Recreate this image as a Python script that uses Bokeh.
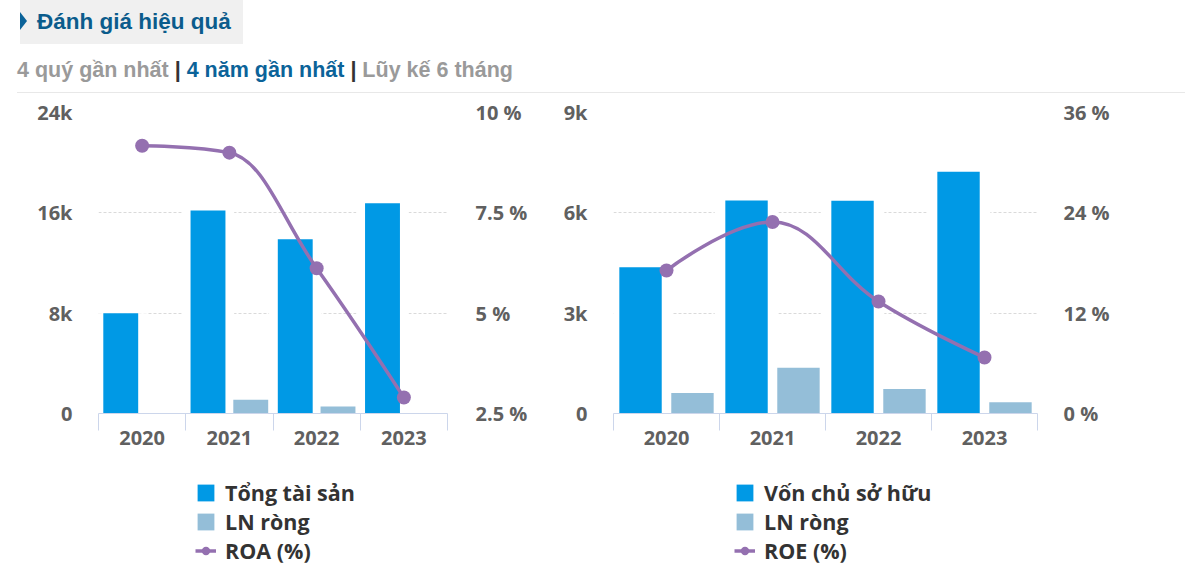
from bokeh.plotting import figure
from bokeh.models import (Range1d, LinearAxis, FixedTicker, CustomJSTickFormatter,
                          NumeralTickFormatter, Legend, LegendItem, Div, ColumnDataSource)
from bokeh.transform import dodge
from bokeh.layouts import column, row
from bokeh.embed import file_html
from bokeh.resources import INLINE

# ---------------- data ----------------
years = ["2020", "2021", "2022", "2023"]
tong_tai_san = [8000, 16190, 13900, 16770]
ln_rong_a = [0, 1100, 550, 0]
roa = [9.17, 9.0, 6.12, 2.9]
von_chu_so_huu = [4370, 6370, 6360, 7230]
ln_rong_e = [610, 1370, 730, 340]
roe = [17.1, 22.9, 13.4, 6.7]

left_ticks = [0, 8000, 16000, 24000]
roa_ticks = [2.5, 5, 7.5, 10]
right_ticks = [0, 3000, 6000, 9000]
roe_ticks = [0, 12, 24, 36]

title_text = "Đánh giá hiệu quả"
tab_labels = ["4 quý gần nhất", "4 năm gần nhất", "Lũy kế 6 tháng"]

# ---------------- styles ----------------
C_MAIN = "#0099e5"
C_LN = "#94bed8"
C_LINE = "#9470b0"
C_AXIS = "#ccd6eb"
C_TICKTXT = "#606060"
FONT = "Open Sans"
LEGEND_H = 115


def spline_segments(xs, ys):
    """Highcharts-like spline control points (smoothing 1.5)."""
    n = len(xs)
    sm, den = 1.5, 2.5
    lc = [None] * n
    rc = [None] * n
    for i in range(1, n - 1):
        px, py = xs[i], ys[i]
        lx, ly = xs[i - 1], ys[i - 1]
        nx, ny = xs[i + 1], ys[i + 1]
        lcx, lcy = (sm * px + lx) / den, (sm * py + ly) / den
        rcx, rcy = (sm * px + nx) / den, (sm * py + ny) / den
        if rcx != lcx:
            corr = ((rcy - lcy) * (rcx - px)) / (rcx - lcx) + py - rcy
            lcy += corr
            rcy += corr
        if lcy > ly and lcy > py:
            lcy = max(ly, py); rcy = 2 * py - lcy
        elif lcy < ly and lcy < py:
            lcy = min(ly, py); rcy = 2 * py - lcy
        if rcy > ny and rcy > py:
            rcy = max(ny, py); lcy = 2 * py - rcy
        elif rcy < ny and rcy < py:
            rcy = min(ny, py); lcy = 2 * py - rcy
        lc[i] = (lcx, lcy)
        rc[i] = (rcx, rcy)
    seg = dict(x0=[], y0=[], x1=[], y1=[], cx0=[], cy0=[], cx1=[], cy1=[])
    for i in range(1, n):
        a = (xs[i - 1], ys[i - 1])
        b = (xs[i], ys[i])
        c0 = rc[i - 1] or a
        c1 = lc[i] or b
        seg["x0"].append(a[0]); seg["y0"].append(a[1])
        seg["x1"].append(b[0]); seg["y1"].append(b[1])
        seg["cx0"].append(c0[0]); seg["cy0"].append(c0[1])
        seg["cx1"].append(c1[0]); seg["cy1"].append(c1[1])
    return seg


def add_series(p, src, seg, visible=True):
    p.vbar(x=dodge("x", -0.245, range=p.x_range), top="main", width=0.6,
           fill_color="white", line_color=None, source=src, visible=visible)
    r_main = p.vbar(x=dodge("x", -0.245, range=p.x_range), top="main", width=0.4,
                    fill_color=C_MAIN, line_color=None, source=src, visible=visible)
    r_ln = p.vbar(x=dodge("x", 0.245, range=p.x_range), top="ln", width=0.4,
                  fill_color=C_LN, line_color=None, source=src, visible=visible)
    r_bez = p.bezier(source=ColumnDataSource(seg), x0="x0", y0="y0", x1="x1", y1="y1",
                     cx0="cx0", cy0="cy0", cx1="cx1", cy1="cy1",
                     line_color=C_LINE, line_width=3.5, y_range_name="pct",
                     visible=visible)
    r_pt = p.scatter("x", "pct", source=src, size=14, fill_color=C_LINE,
                     line_color=None, y_range_name="pct", visible=visible)
    return r_main, r_ln, r_bez, r_pt


def make_chart(border_left, frame_w, border_right, main_vals, ln_vals, pct_vals,
               main_ticks, pct_ticks, main_label, pct_label, legend_x,
               left_standoff, right_standoff):
    p = figure(frame_width=frame_w, frame_height=301,
               min_border_left=border_left, min_border_right=border_right,
               min_border_top=14, min_border_bottom=50,
               x_range=Range1d(0, len(years)),
               y_range=Range1d(main_ticks[0], main_ticks[-1]),
               output_backend="svg", toolbar_location=None,
               outline_line_color=None, background_fill_color="white",
               border_fill_color="white")
    p.extra_y_ranges = {"pct": Range1d(pct_ticks[0], pct_ticks[-1])}

    xpos = [i + 0.5 for i in range(len(years))]
    src = ColumnDataSource(dict(x=xpos, main=main_vals, ln=ln_vals,
                                pct=pct_vals, year=years))
    seg = spline_segments(xpos, pct_vals)
    add_series(p, src, seg)

    p.xgrid.visible = False
    p.ygrid.ticker = FixedTicker(ticks=main_ticks)
    p.ygrid.grid_line_color = "#dadada"
    p.ygrid.grid_line_dash = "3 2"
    p.ygrid.grid_line_width = 1

    def style_labels(ax, size="20px"):
        ax.major_label_text_font = FONT
        ax.major_label_text_font_style = "bold"
        ax.major_label_text_font_size = size
        ax.major_label_text_color = C_TICKTXT

    ya = p.yaxis[0]
    ya.ticker = FixedTicker(ticks=main_ticks)
    ya.formatter = NumeralTickFormatter(format="0a")
    ya.axis_line_color = None
    ya.major_tick_line_color = None
    ya.minor_tick_line_color = None
    ya.major_tick_out = 0
    ya.major_tick_in = 0
    ya.major_label_standoff = left_standoff
    style_labels(ya)

    yr = LinearAxis(y_range_name="pct", ticker=FixedTicker(ticks=pct_ticks),
                    formatter=CustomJSTickFormatter(code="return tick + ' %';"))
    yr.axis_line_color = None
    yr.major_tick_line_color = None
    yr.minor_tick_line_color = None
    yr.major_tick_out = 0
    yr.major_tick_in = 0
    yr.major_label_standoff = right_standoff
    style_labels(yr)
    p.add_layout(yr, "right")

    xa = p.xaxis[0]
    xa.ticker = FixedTicker(ticks=list(range(len(years) + 1)))
    xa.formatter = CustomJSTickFormatter(code="return '';")
    xa.axis_line_color = C_AXIS
    xa.major_tick_line_color = C_AXIS
    xa.minor_tick_line_color = None
    xa.major_tick_out = 17
    xa.major_tick_in = 0
    xa.major_label_text_font_size = "1px"
    xa.major_label_standoff = 0

    xl = LinearAxis(ticker=FixedTicker(ticks=xpos),
                    formatter=CustomJSTickFormatter(args=dict(years=years),
                                                    code="return years[Math.floor(tick)];"))
    xl.axis_line_color = None
    xl.major_tick_line_color = None
    xl.minor_tick_line_color = None
    xl.major_tick_out = 0
    xl.major_tick_in = 0
    xl.major_label_standoff = 0
    style_labels(xl)
    p.add_layout(xl, "below")

    # ---- legend strip (separate figure so it is not clipped) ----
    total_w = border_left + frame_w + border_right
    lg = figure(width=total_w, height=LEGEND_H, min_border=0,
                x_range=Range1d(0, len(years)),
                y_range=Range1d(main_ticks[0], main_ticks[-1]),
                output_backend="svg", toolbar_location=None,
                x_axis_location=None, y_axis_location=None,
                outline_line_color=None, background_fill_color="white",
                border_fill_color="white")
    lg.extra_y_ranges = {"pct": Range1d(pct_ticks[0], pct_ticks[-1])}
    lg.grid.visible = False
    r_main, r_ln, r_bez, r_pt = add_series(lg, src, seg, visible=False)

    legend = Legend(items=[
        LegendItem(label=main_label, renderers=[r_main]),
        LegendItem(label="LN ròng", renderers=[r_ln]),
        LegendItem(label=pct_label, renderers=[r_bez, r_pt]),
    ], location=(legend_x, 13))
    legend.glyph_width = 21
    legend.glyph_height = 21
    legend.label_standoff = 9
    legend.spacing = 0
    legend.padding = 0
    legend.margin = 0
    legend.label_height = 24
    legend.border_line_color = None
    legend.background_fill_alpha = 0
    legend.inactive_fill_alpha = 0
    legend.label_text_font = FONT
    legend.label_text_font_style = "bold"
    legend.label_text_font_size = "21.5px"
    legend.label_text_color = "#333333"
    lg.add_layout(legend, "center")
    return p, lg


p1, l1 = make_chart(98, 349, 108, tong_tai_san, ln_rong_a, roa, left_ticks, roa_ticks,
                    "Tổng tài sản", "ROA (%)", 195, 26, 28)
p2, l2 = make_chart(58, 424, 153, von_chu_so_huu, ln_rong_e, roe, right_ticks, roe_ticks,
                    "Vốn chủ sở hữu", "ROE (%)", 179, 26, 26)

header_html = f"""
<div style="position:relative;width:1182px;height:88px;font-family:'Liberation Sans',Arial,sans-serif;">
  <div style="position:absolute;left:15px;top:-5px;width:223px;height:44px;background:#f0f0f0;"></div>
  <div style="position:absolute;left:15px;top:7px;width:0;height:0;border-top:9.5px solid transparent;border-bottom:9.5px solid transparent;border-left:7px solid #0b6399;"></div>
  <div style="position:absolute;left:32px;top:5px;line-height:24px;font-size:22.5px;font-weight:bold;color:#0b5c8c;white-space:nowrap;">{title_text}</div>
  <div style="position:absolute;left:12px;top:53px;line-height:24px;font-size:21.5px;font-weight:bold;color:#9a9a9a;white-space:nowrap;">{tab_labels[0]} <span style="color:#333333;">|</span> <span style="color:#0b6399;">{tab_labels[1]}</span> <span style="color:#333333;">|</span> {tab_labels[2]}</div>
  <div style="position:absolute;left:12px;top:87px;width:1168px;height:1px;background:#e8e8e8;"></div>
</div>
"""
header = Div(text=header_html, width=1182, height=88)

layout = column(header, row(p1, p2), row(l1, l2))
open("out.html", "w").write(file_html(layout, INLINE))
